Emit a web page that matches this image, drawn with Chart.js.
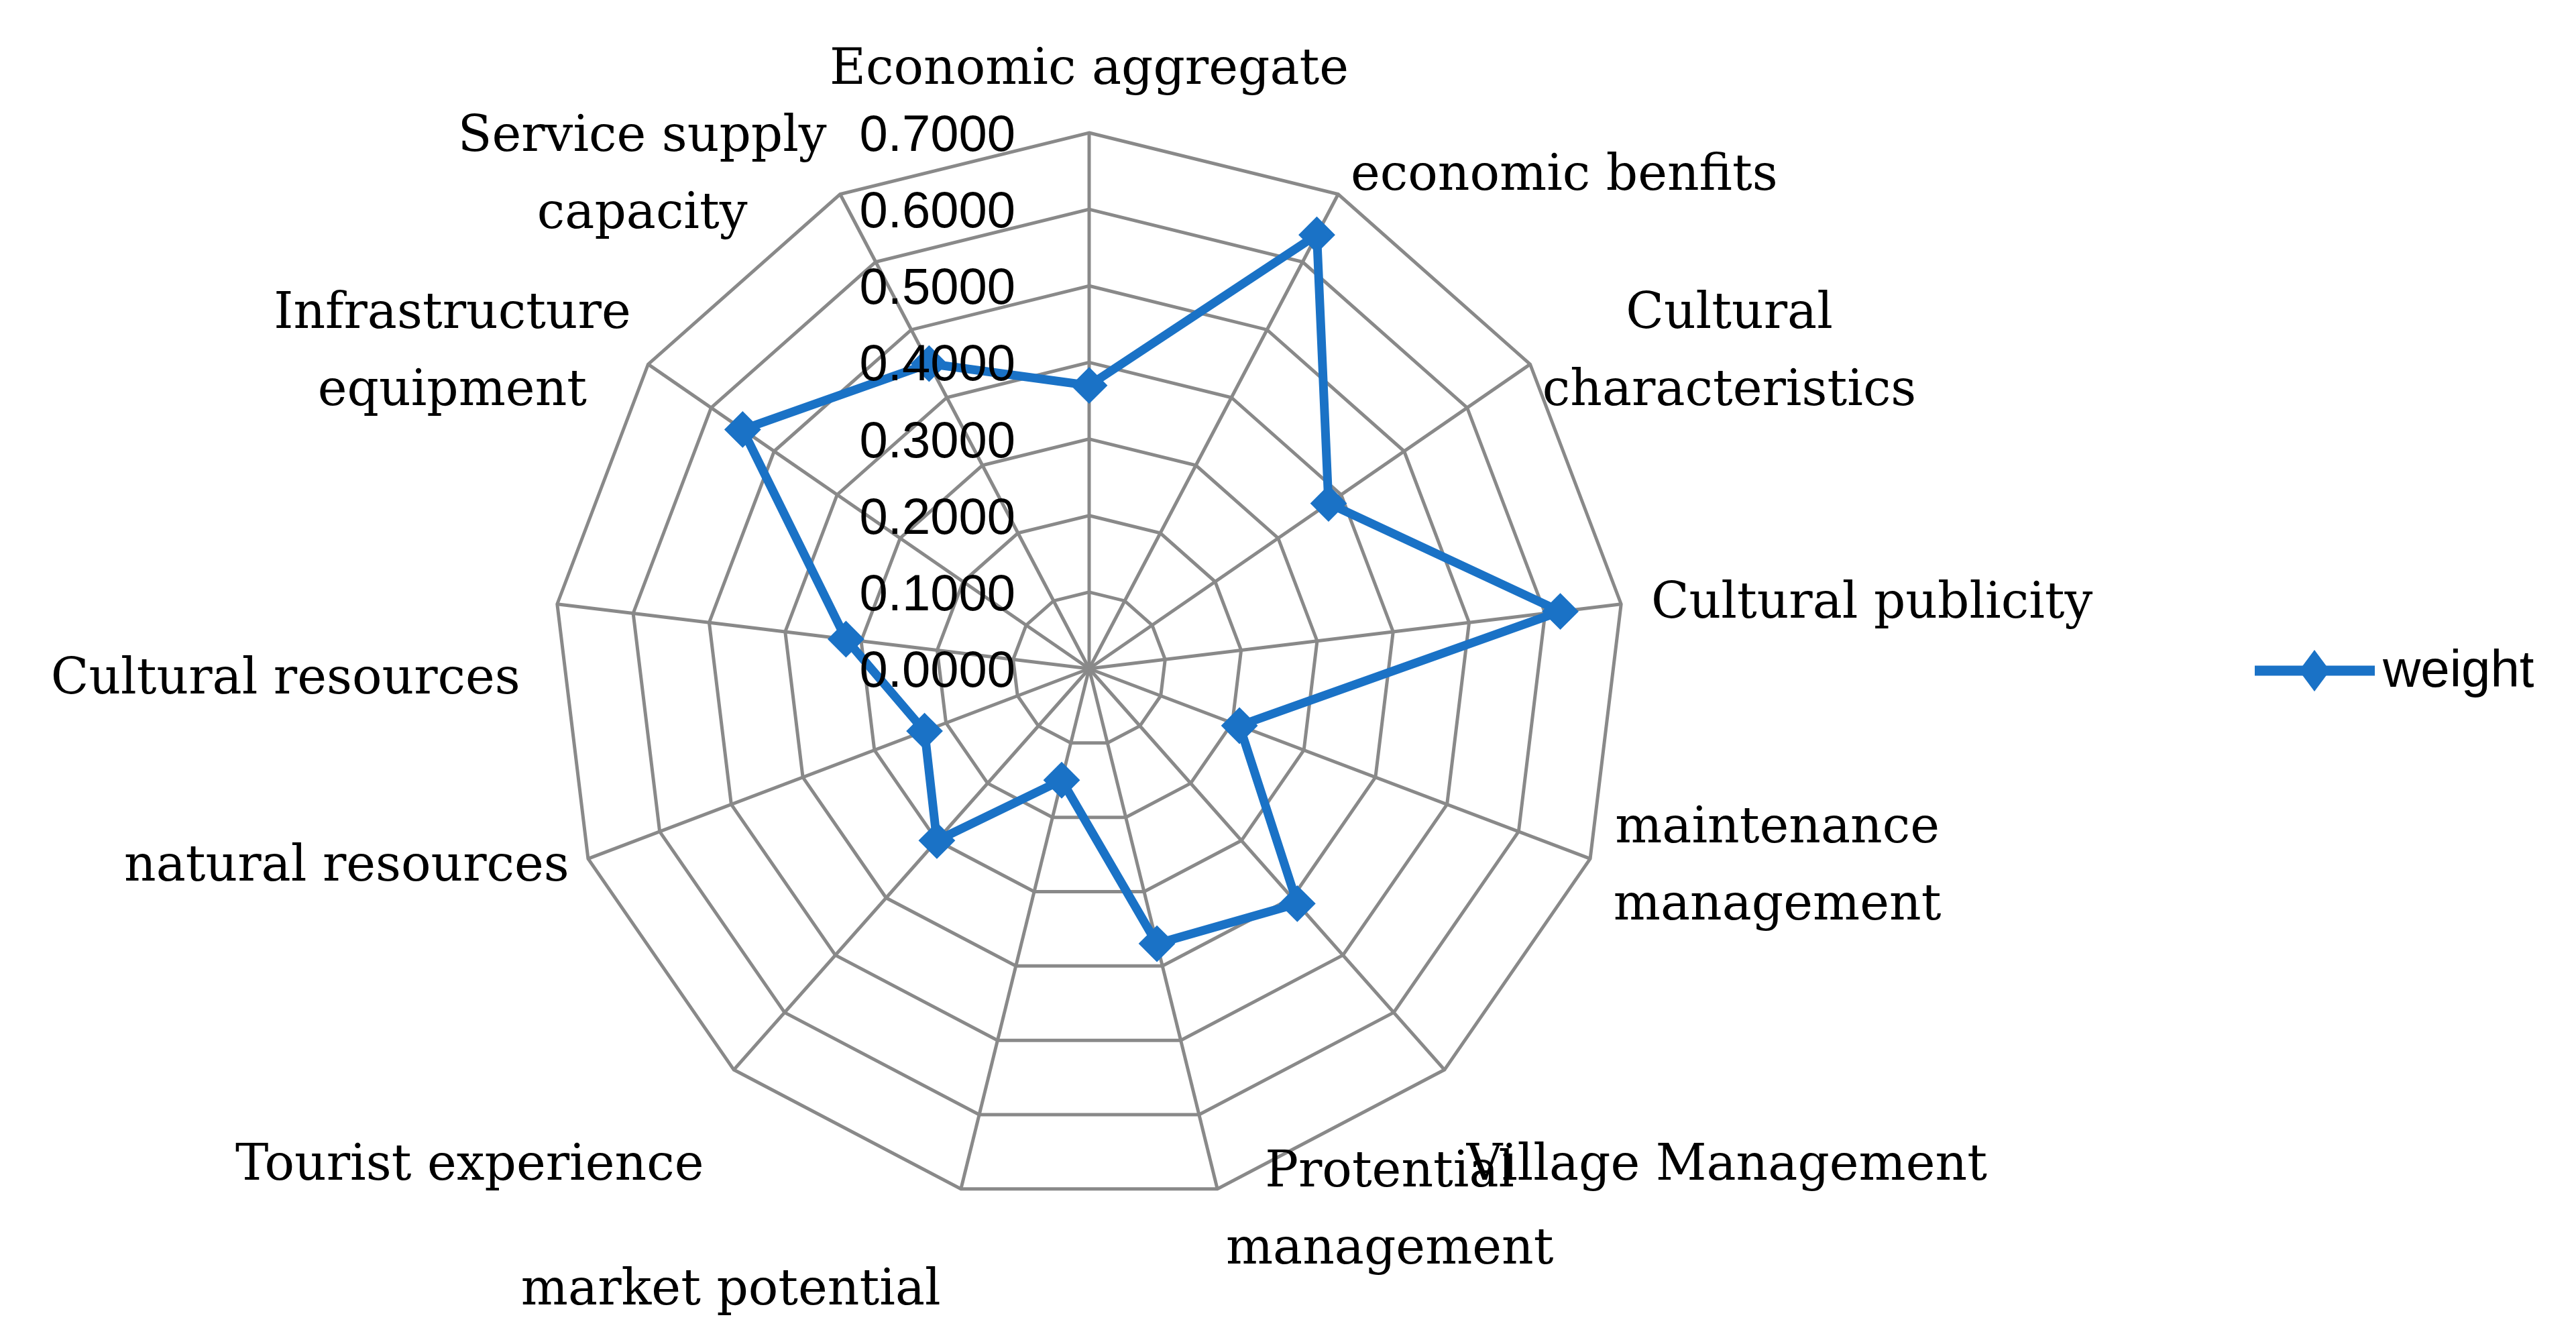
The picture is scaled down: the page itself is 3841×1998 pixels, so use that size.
<!DOCTYPE html>
<html>
<head>
<meta charset="utf-8">
<script src="https://cdn.jsdelivr.net/npm/chart.js@4.4.1/dist/chart.umd.min.js"></script>
<style>
  html, body { margin: 0; padding: 0; background: #fff; overflow: hidden; }
  canvas { display: block; }
</style>
</head>
<body>
<canvas id="radarChart" width="3841" height="1998" style="width:3841px;height:1998px"></canvas>
<script>
// Categories, clockwise from the top
const categories = [
  'Economic aggregate',
  'economic benfits',
  ['Cultural', 'characteristics'],
  'Cultural publicity',
  ['maintenance', 'management'],
  'Village Management',
  ['Protential', 'management'],
  'market potential',
  'Tourist experience',
  'natural resources',
  'Cultural resources',
  ['Infrastructure', 'equipment'],
  ['Service supply', 'capacity']
];

// weight of each indicator
const weights = [0.37, 0.64, 0.38, 0.62, 0.21, 0.41, 0.37, 0.15, 0.30, 0.23, 0.32, 0.55, 0.45];

const seriesName = 'weight';
const axisMin = 0;
const axisMax = 0.7;
const axisStep = 0.1;

// where each category label sits relative to its outer vertex (label centre, px)
const labelOffsets = [
  [0, -100], [337, -34], [297, -24], [374, -7], [279, 6], [421, 137], [257, 27],
  [-343, 145], [-394, 137], [-360, 6], [-405, 106], [-292, -24], [-295, -34]
];

const blue = '#1a72c6';
const gridGrey = '#898989';

const excelLabels = {
  id: 'excelLabels',
  afterDatasetsDraw(chart) {
    const scale = chart.scales.r;
    const ctx = chart.ctx;
    ctx.save();
    ctx.fillStyle = '#000';

    // value labels left of the vertical axis, drawn over the line like Excel does
    ctx.font = '76px "Liberation Sans"';
    ctx.textAlign = 'right';
    ctx.textBaseline = 'alphabetic';
    scale.ticks.forEach(t => {
      const d = scale.getDistanceFromCenterForValue(t.value);
      ctx.fillText(t.value.toFixed(4), scale.xCenter - 110, scale.yCenter - d + 27);
    });

    // category labels
    ctx.font = '74px "DejaVu Serif"';
    ctx.textAlign = 'center';
    const lineGap = 115;
    categories.forEach((lab, i) => {
      const p = scale.getPointPosition(i, scale.drawingArea);
      const lines = Array.isArray(lab) ? lab : [lab];
      const [dx, dy] = labelOffsets[i];
      lines.forEach((ln, k) => {
        const y = p.y + dy + (k - (lines.length - 1) / 2) * lineGap + 27;
        ctx.fillText(ln, p.x + dx, y);
      });
    });

    // legend on the right
    const ds = chart.data.datasets[0];
    const ly = scale.yCenter + 3;
    ctx.strokeStyle = ds.borderColor;
    ctx.lineWidth = 15;
    ctx.beginPath();
    ctx.moveTo(3362, ly);
    ctx.lineTo(3541, ly);
    ctx.stroke();
    ctx.fillStyle = ds.pointBackgroundColor;
    ctx.beginPath();
    ctx.moveTo(3451, ly - 31);
    ctx.lineTo(3474, ly);
    ctx.lineTo(3451, ly + 31);
    ctx.lineTo(3428, ly);
    ctx.closePath();
    ctx.fill();
    ctx.fillStyle = '#000';
    ctx.font = '78px "Liberation Sans"';
    ctx.textAlign = 'left';
    ctx.fillText(ds.label, 3553, ly + 24);

    ctx.restore();
  }
};

new Chart(document.getElementById('radarChart'), {
  type: 'radar',
  data: {
    labels: categories,
    datasets: [{
      label: seriesName,
      data: weights,
      borderColor: blue,
      backgroundColor: blue,
      borderWidth: 13,
      fill: false,
      tension: 0,
      pointStyle: 'rectRot',
      pointRadius: 26,
      pointBackgroundColor: blue,
      pointBorderColor: blue,
      pointBorderWidth: 2
    }]
  },
  options: {
    responsive: false,
    animation: false,
    devicePixelRatio: 1,
    layout: { padding: { left: 825, right: 1418, top: 198, bottom: 202 } },
    plugins: {
      legend: { display: false },
      tooltip: { enabled: false }
    },
    scales: {
      r: {
        min: axisMin,
        max: axisMax,
        ticks: { stepSize: axisStep, display: false },
        grid: { color: gridGrey, lineWidth: 5 },
        angleLines: { color: gridGrey, lineWidth: 5 },
        pointLabels: { display: false }
      }
    }
  },
  plugins: [excelLabels]
});
</script>
</body>
</html>
